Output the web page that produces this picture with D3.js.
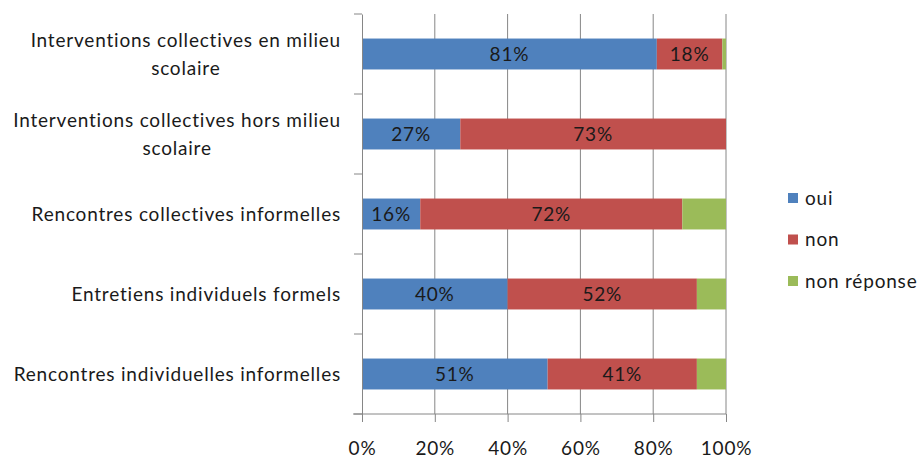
<!DOCTYPE html>
<html><head><meta charset="utf-8">
<script src="https://cdn.jsdelivr.net/npm/d3@7"></script>
<style>body{margin:0;background:#fff;} svg{display:block;font-family:Lato,"Open Sans",sans-serif;} text{letter-spacing:0.8px;}</style>
</head><body>
<svg id="c" width="921" height="458"></svg>
<script>
const categories = [
  ["Interventions collectives en milieu","scolaire"],
  ["Interventions collectives hors milieu","scolaire"],
  ["Rencontres collectives informelles"],
  ["Entretiens individuels formels"],
  ["Rencontres individuelles informelles"]
];
const seriesNames = ["oui","non","non réponse"];
const oui = [81, 27, 16, 40, 51];
const non = [18, 73, 72, 52, 41];
const nonReponse = [1, 0, 12, 8, 8];
const xTicks = [0, 0.2, 0.4, 0.6, 0.8, 1];
const colors = ["#4F81BD", "#C0504D", "#9BBB59"];

(function(){
const svg = d3.select("#c");
const L = 362, R = 726, T = 14, B = 414;
const x = d3.scaleLinear().domain([0, 1]).range([L, R]);
const y = d3.scaleBand().domain(d3.range(categories.length)).range([T, B]).paddingInner(0.6135).paddingOuter(0.30675);
const yb = d3.scaleBand().domain(d3.range(categories.length)).range([T, B]);

const rows = categories.map((c, i) => {
  const tot = oui[i] + non[i] + nonReponse[i];
  return {i, oui: oui[i] / tot, non: non[i] / tot, nr: nonReponse[i] / tot};
});
const stack = d3.stack().keys(["oui","non","nr"])(rows);

// gridlines
svg.append("g").selectAll("line").data(xTicks.slice(1)).join("line")
  .attr("x1", d => x(d)).attr("x2", d => x(d)).attr("y1", T).attr("y2", B)
  .attr("stroke", "#868686").attr("stroke-width", 1);

// bars
const g = svg.append("g");
stack.forEach((s, k) => {
  g.append("g").attr("fill", colors[k]).selectAll("rect").data(s).join("rect")
    .attr("x", d => x(d[0])).attr("width", d => Math.max(0, x(d[1]) - x(d[0])))
    .attr("y", (d, i) => y(i)).attr("height", y.bandwidth());
});
// data labels
const raw = [oui, non, nonReponse];
stack.forEach((s, k) => {
  if (k === 2) return;
  g.append("g").selectAll("text").data(s).join("text")
    .attr("x", d => (x(d[0]) + x(d[1])) / 2)
    .attr("y", (d, i) => y(i) + y.bandwidth() / 2)
    .attr("dy", "0.36em").attr("text-anchor", "middle")
    .attr("font-size", 19).attr("fill", "#1a1a1a")
    .text((d, i) => raw[k][i] + "%");
});

// y axis
const ya = d3.axisLeft(yb).tickSize(0).tickFormat("");
const yg = svg.append("g").attr("transform", `translate(${L},0)`).call(ya);
yg.select(".domain").attr("stroke", "#868686");
yg.append("g").selectAll("line").data(d3.range(categories.length + 1)).join("line")
  .attr("x1", -8).attr("x2", 0)
  .attr("y1", d => T + d * yb.step()).attr("y2", d => T + d * yb.step())
  .attr("stroke", "#868686");

// x axis
const xa = d3.axisBottom(x).tickValues(xTicks).tickSize(8).tickPadding(20).tickFormat(d3.format(".0%"));
const xg = svg.append("g").attr("transform", `translate(0,${B})`).call(xa);
xg.select(".domain").remove();
xg.append("line").attr("x1", L - 9).attr("x2", R).attr("stroke", "#868686");
xg.selectAll(".tick line").attr("stroke", "#868686");
xg.selectAll(".tick text").attr("font-size", 19).attr("fill", "#1a1a1a").attr("font-family", "Lato");

// category labels
const lg = svg.append("g");
categories.forEach((lines, i) => {
  const cy = yb(i) + yb.bandwidth() / 2;
  const lh = 27.5;
  const t = lg.append("g");
  const texts = lines.map((ln, j) => t.append("text")
    .attr("y", cy + (j - (lines.length - 1) / 2) * lh).attr("dy", "0.36em")
    .attr("font-size", 19).attr("fill", "#1a1a1a").attr("text-anchor", "middle").text(ln));
  const widths = texts.map(tx => tx.node().getComputedTextLength());
  const maxW = Math.max(...widths);
  const cx = 341 - maxW / 2;
  texts.forEach(tx => tx.attr("x", cx));
});

// legend
const leg = svg.append("g");
seriesNames.forEach((n, k) => {
  const ly = 198 + k * 41.5;
  leg.append("rect").attr("x", 788).attr("y", ly - 5).attr("width", 10).attr("height", 10).attr("fill", colors[k]);
  leg.append("text").attr("x", 805).attr("y", ly).attr("dy", "0.36em").attr("font-size", 19).attr("fill", "#1a1a1a").text(n);
});
})();
</script>
</body></html>
